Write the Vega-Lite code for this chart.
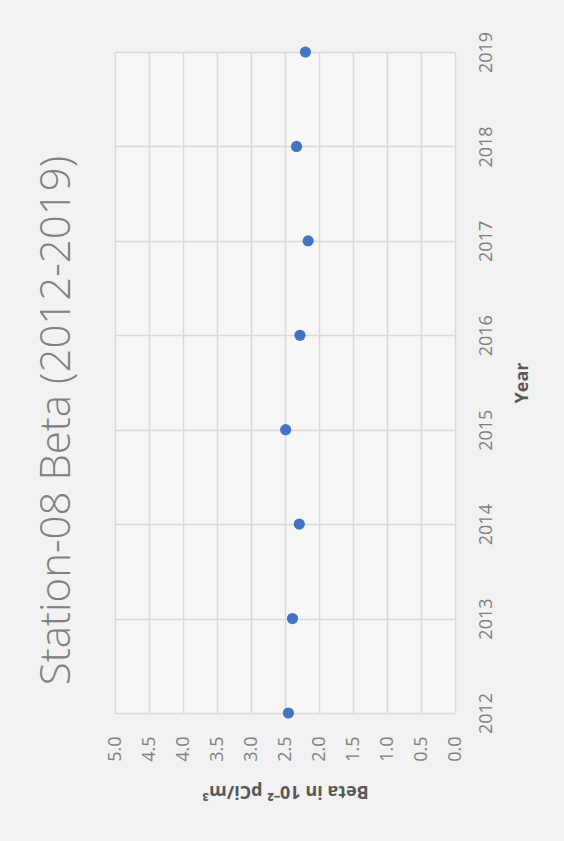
{
  "$schema": "https://vega.github.io/schema/vega-lite/v6.json",
  "autosize": "none",
  "width": 340,
  "height": 661,
  "padding": {"left": 115, "top": 52, "right": 109, "bottom": 128},
  "background": "#f2f2f2",
  "title": {
    "text": "Station-08 Beta  (2012-2019)",
    "orient": "left",
    "anchor": "middle",
    "angle": -90,
    "font": "Open Sans",
    "fontSize": 42,
    "fontWeight": 300,
    "color": "#808080",
    "offset": 27,
    "dx": -38
  },
  "data": {
    "values": [
      {"Year": 2012, "Beta": 2.45},
      {"Year": 2013, "Beta": 2.39},
      {"Year": 2014, "Beta": 2.29},
      {"Year": 2015, "Beta": 2.49},
      {"Year": 2016, "Beta": 2.28},
      {"Year": 2017, "Beta": 2.16},
      {"Year": 2018, "Beta": 2.33},
      {"Year": 2019, "Beta": 2.20}
    ]
  },
  "mark": {"type": "circle", "size": 125, "color": "#4472c4", "opacity": 1},
  "encoding": {
    "x": {
      "field": "Beta",
      "type": "quantitative",
      "scale": {"domain": [0, 5], "reverse": true, "nice": false, "zero": false},
      "axis": {
        "orient": "bottom",
        "values": [0, 0.5, 1, 1.5, 2, 2.5, 3, 3.5, 4, 4.5, 5],
        "format": ".1f",
        "labelAngle": -90,
        "labelAlign": "right",
        "labelBaseline": "middle",
        "labelPadding": 23,
        "labelFontSize": 18,
        "title": "Beta in 10⁻² pCi/m³",
        "titleAngle": 180,
        "titleFontWeight": "bold",
        "titleFontSize": 18,
        "titlePadding": 20,
        "titleBaseline": "bottom",
        "titleColor": "#595959"
      }
    },
    "y": {
      "field": "Year",
      "type": "quantitative",
      "scale": {"domain": [2012, 2019], "nice": false, "zero": false},
      "axis": {
        "orient": "right",
        "values": [2012, 2013, 2014, 2015, 2016, 2017, 2018, 2019],
        "format": "d",
        "labelAngle": -90,
        "labelAlign": "center",
        "labelBaseline": "top",
        "labelPadding": 22,
        "labelFontSize": 18,
        "title": "Year",
        "titleAngle": -90,
        "titleFontWeight": "bold",
        "titleFontSize": 18,
        "titlePadding": 18,
        "titleBaseline": "top",
        "titleColor": "#595959"
      }
    }
  },
  "config": {
    "view": {"stroke": null, "fill": "#f7f7f7"},
    "axis": {
      "domain": false,
      "ticks": false,
      "grid": true,
      "gridColor": "#d9d9d9",
      "gridWidth": 1.5,
      "labelFont": "Open Sans",
      "labelColor": "#7f7f7f",
      "titleFont": "Open Sans"
    }
  }
}
